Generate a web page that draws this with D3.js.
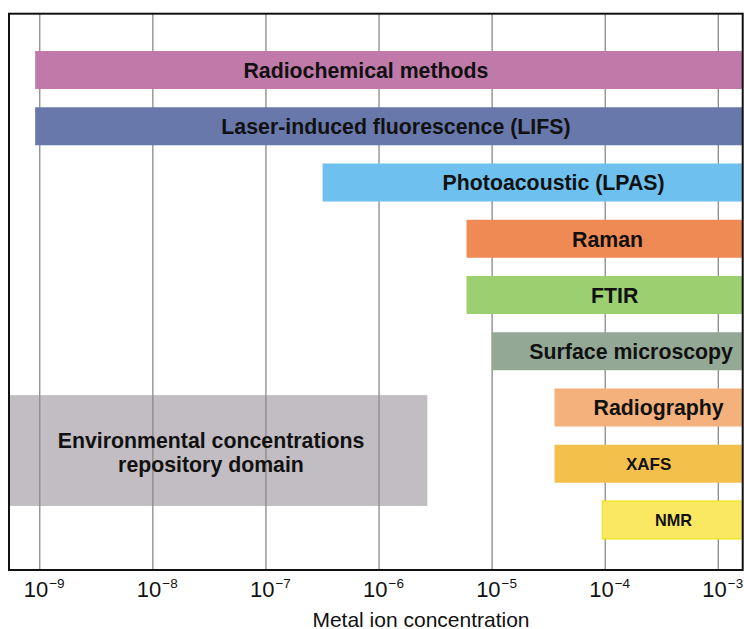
<!DOCTYPE html>
<html>
<head>
<meta charset="utf-8">
<script src="https://cdn.jsdelivr.net/npm/d3@7/dist/d3.min.js"></script>
<style>
  body { margin: 0; background: #fff; }
  svg { display: block; font-family: "Liberation Sans", Arial, sans-serif; }
</style>
</head>
<body>
<svg width="744" height="629"></svg>
<script>
// data
const methods = ['Radiochemical methods', 'Laser-induced fluorescence (LIFS)', 'Photoacoustic (LPAS)',
  'Raman', 'FTIR', 'Surface microscopy', 'Radiography', 'XAFS', 'NMR']
const lowerLimit = [9.2e-10, 9.2e-10, 3.2e-7, 6e-6, 6e-6, 1e-5, 3.6e-5, 3.6e-5, 9.5e-5]
const axisMin = 5.4e-10
const axisMax = 1.66e-3
const envRange = [axisMin, 2.7e-6]
const envRows = [6.28, 8.25]
const envLabel = ['Environmental concentrations', 'repository domain']
const tickExponents = [-9, -8, -7, -6, -5, -4, -3]

// layout + style
const frame = { left: 9, top: 13.7, right: 742.7, bottom: 570 }
const colors = ['#bf7aaa', '#6878ab', '#6ec0ee', '#ef8a55', '#9bcf6f', '#94a995', '#f4b17b', '#f4c04c', '#fae862']
const labelDx = [-23, 7, 21, 3, 10, 14, 10, 0, 1]
const labelSize = [21.3, 21.3, 21.3, 21.3, 21.3, 21.3, 21.3, 17, 16.3]

const svg = d3.select('svg')

const x = d3.scaleLog().domain([axisMin, axisMax]).range([frame.left, frame.right])
const y = d3.scaleBand().domain(methods).range([41.9, 548.1]).paddingInner(0.324).paddingOuter(0.162)
const yRow = d3.scaleLinear().domain([0, methods.length]).range(y.range())

// environmental box (below grid)
svg.append('rect')
  .attr('x', x(envRange[0]))
  .attr('width', x(envRange[1]) - x(envRange[0]))
  .attr('y', yRow(envRows[0]))
  .attr('height', yRow(envRows[1]) - yRow(envRows[0]))
  .attr('fill', '#c1bdc2')

// grid
const grid = svg.append('g')
  .attr('transform', `translate(0, ${ frame.bottom })`)
  .call(d3.axisBottom(x)
    .tickValues(tickExponents.map(e => Math.pow(10, e)))
    .tickSize(-(frame.bottom - frame.top))
    .tickFormat(''))
grid.select('.domain').remove()
grid.selectAll('.tick line').attr('stroke', '#8a8a8a').attr('stroke-width', 1.3)

const envMid = (yRow(envRows[0]) + yRow(envRows[1])) / 2
svg.append('text')
  .attr('x', 211)
  .attr('y', envMid - 2.5)
  .attr('text-anchor', 'middle')
  .attr('font-size', 21.3)
  .attr('font-weight', 'bold')
  .attr('fill', '#111')
  .selectAll('tspan')
  .data(envLabel).join('tspan')
  .attr('x', 211)
  .attr('dy', (d, i) => i == 0 ? 0 : 23.5)
  .text(d => d)

// bars
const bars = svg.append('g').selectAll('g')
  .data(methods).join('g')

bars.append('rect')
  .attr('x', (d, i) => x(lowerLimit[i]))
  .attr('y', d => y(d))
  .attr('width', (d, i) => x(axisMax) - x(lowerLimit[i]))
  .attr('height', y.bandwidth())
  .attr('fill', (d, i) => colors[i])
  .attr('stroke', d => d == 'NMR' ? '#f2e000' : 'none')
  .attr('stroke-width', 1)

bars.append('text')
  .attr('x', (d, i) => (x(lowerLimit[i]) + x(axisMax)) / 2 + labelDx[i])
  .attr('y', d => y(d) + y.bandwidth() / 2)
  .attr('dy', (d, i) => labelSize[i] * 0.37)
  .attr('text-anchor', 'middle')
  .attr('font-size', (d, i) => labelSize[i])
  .attr('font-weight', 'bold')
  .attr('fill', '#111')
  .text(d => d)

// frame
svg.append('rect')
  .attr('x', frame.left)
  .attr('y', frame.top)
  .attr('width', frame.right - frame.left)
  .attr('height', frame.bottom - frame.top)
  .attr('fill', 'none')
  .attr('stroke', '#111')
  .attr('stroke-width', 2)

// tick labels
const tickLabels = svg.append('g').selectAll('text')
  .data(tickExponents).join('text')
  .attr('x', d => x(Math.pow(10, d)) - 15.5)
  .attr('y', 596.7)
  .attr('font-size', 22)
  .attr('fill', '#111')
tickLabels.append('tspan').text('10')
tickLabels.append('tspan')
  .attr('font-size', 13.5)
  .attr('dx', 1)
  .attr('dy', -8.4)
  .text(d => '\u2212' + Math.abs(d))

svg.append('text')
  .attr('x', 421)
  .attr('y', 626.5)
  .attr('text-anchor', 'middle')
  .attr('font-size', 21)
  .attr('fill', '#111')
  .text('Metal ion concentration')
</script>
</body>
</html>
